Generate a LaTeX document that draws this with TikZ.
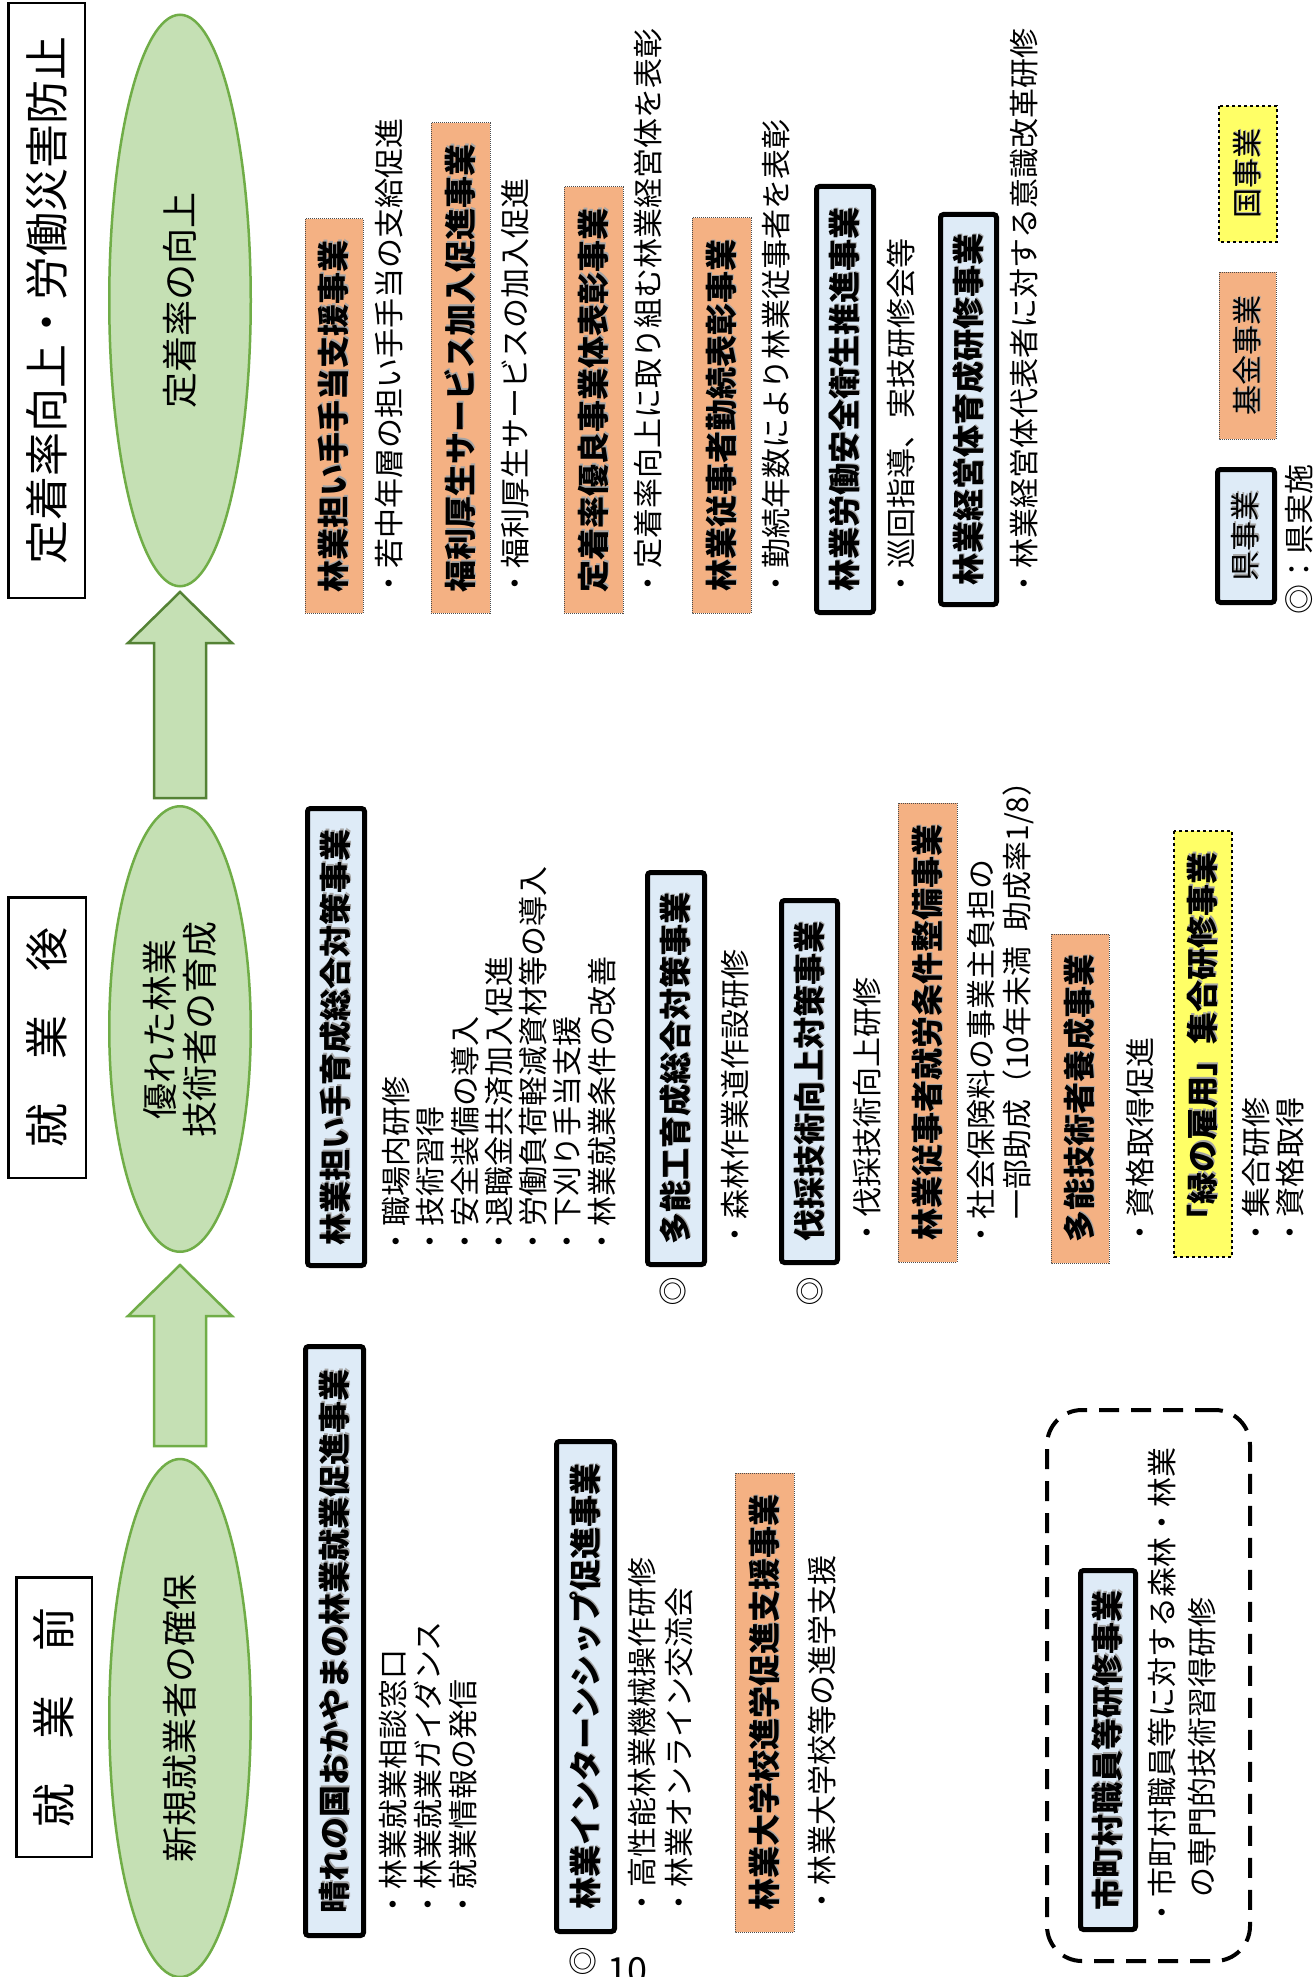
\documentclass[tikz,border=0pt]{standalone}
\usepackage{fontspec}
\setmainfont{Noto Sans CJK JP}
\usetikzlibrary{shapes.geometric}
\definecolor{orangefill}{HTML}{F4B183}
\definecolor{bluefill}{HTML}{DEEBF7}
\definecolor{yellowfill}{HTML}{FFFF66}
\definecolor{greenfill}{HTML}{C5E0B4}
\definecolor{greenline}{HTML}{70AD47}
\definecolor{darkgreen}{HTML}{548235}
\newcommand{\shd}[1]{\rlap{\kern1.2pt\raisebox{-1.2pt}{\color{black!35}#1}}#1}
\tikzset{
  headfont/.style={font=\fontsize{32}{38}\selectfont\bfseries},
  bluebox/.style={draw=black, line width=5pt, fill=bluefill, rounded corners=3pt, rotate=90, inner sep=0pt, headfont},
  orangebox/.style={draw=black!70, densely dotted, line width=1pt, fill=orangefill, rotate=90, inner sep=0pt, headfont},
  yellowbox/.style={draw=black, dashed, line width=1.5pt, fill=yellowfill, rotate=90, inner sep=0pt, headfont},
  legendfont/.style={font=\fontsize{30}{36}\selectfont},
  listtext/.style={rotate=90, anchor=north west, inner sep=0pt, align=left, font=\fontsize{30}{35}\selectfont},
  titlebox/.style={draw=black, line width=2.5pt, rotate=90, inner sep=0pt, font=\fontsize{44}{50}\selectfont},
  goal/.style={ellipse, draw=greenline, line width=2.5pt, fill=greenfill, inner sep=0pt, rotate=90, font=\fontsize{36}{40}\selectfont},
  bigarrow/.style={fill=greenfill, draw=darkgreen, line width=2.5pt, line join=miter},
  markfont/.style={inner sep=0pt, font=\fontsize{29}{35}\selectfont},
}
\begin{document}
\begin{tikzpicture}[x=1pt,y=-1pt]
\useasboundingbox (0,0) rectangle (1313,1977);
\fill[white] (0,0) rectangle (1313,1977);

% title boxes
\node[titlebox, minimum width=594.5pt, minimum height=76.5pt] (ttop) at (46.5,300.5) {定着率向上・労働災害防止};
\node[titlebox, minimum width=280.5pt, minimum height=77.5pt] (tafter) at (47,1037.5) {就　業　後};
\node[titlebox, minimum width=279.5pt, minimum height=75.5pt] (tbefore) at (54,1717) {就　業　前};

% goals
\node[goal, minimum width=571.5pt, minimum height=141.5pt] (g1) at (180,300.5) {定着率の向上};
\node[goal, minimum width=445.5pt, minimum height=141.5pt, align=center] (g2) at (180,1029) {優れた林業\\技術者の育成};
\node[goal, minimum width=518pt, minimum height=141.5pt] (g3) at (180,1718) {新規就業者の確保};

% block arrows
\draw[bigarrow] (180,592) -- (232,643) -- (206,643) -- (206,798) -- (154,798) -- (154,643) -- (128,643) -- cycle;
\draw[bigarrow, draw=greenline] (180,1265) -- (232,1316) -- (206,1316) -- (206,1446) -- (154,1446) -- (154,1316) -- (128,1316) -- cycle;

% ---------- top section ----------
\node[orangebox, minimum width=394pt, minimum height=58pt] (teate) at (334,416) {\shd{林業担い手手当支援事業}};
\node[listtext] (teateL) at (375,599) {・若中年層の担い手手当の支給促進};
\node[orangebox, minimum width=490pt, minimum height=59pt] (fukuri) at (460.5,368) {\shd{福利厚生サービス加入促進事業}};
\node[listtext] (fukuriL) at (501,599) {・福利厚生サービスの加入促進};
\node[orangebox, minimum width=426pt, minimum height=59pt] (yuryo) at (593.5,400) {\shd{定着率優良事業体表彰事業}};
\node[listtext] (yuryoL) at (634,599) {・定着率向上に取り組む林業経営体を表彰};
\node[orangebox, minimum width=395pt, minimum height=59pt] (kinzoku) at (721.5,415.5) {\shd{林業従事者勤続表彰事業}};
\node[listtext] (kinzokuL) at (762,599) {・勤続年数により林業従事者を表彰};
\node[bluebox, minimum width=426pt, minimum height=57pt] (anzen) at (845,399.5) {\shd{林業労働安全衛生推進事業}};
\node[listtext] (anzenL) at (887,599) {・巡回指導、実技研修会等};
\node[bluebox, minimum width=390pt, minimum height=56pt] (keiei) at (968.5,409.5) {\shd{林業経営体育成研修事業}};
\node[listtext] (keieiL) at (1010,599) {・林業経営体代表者に対する意識改革研修};

% legend
\node[yellowbox, minimum width=136pt, minimum height=58pt, legendfont] (lgkuni) at (1248,174) {\shd{国事業}};
\node[orangebox, minimum width=167pt, minimum height=57pt, legendfont] (lgkikin) at (1247.5,355.5) {\shd{基金事業}};
\node[bluebox, minimum width=133pt, minimum height=57pt, legendfont] (lgken) at (1246,536) {\shd{県事業}};
\node[listtext, legendfont] (lgmark) at (1285,615) {◎：県実施};

% ---------- middle section ----------
\node[bluebox, minimum width=457pt, minimum height=57pt] (ninaite) at (336,1037) {\shd{林業担い手育成総合対策事業}};
\node[listtext, font=\fontsize{30}{34.3}\selectfont] (ninaiteL) at (382,1257) {・職場内研修\\・技術習得\\・安全装備の導入\\・退職金共済加入促進\\・労働負荷軽減資材等の導入\\・下刈り手当支援\\・林業就業条件の改善};
\node[bluebox, minimum width=392pt, minimum height=57pt] (tanoko) at (676,1068.5) {\shd{多能工育成総合対策事業}};
\node[listtext] (tanokoL) at (721,1250) {・森林作業道作設研修};
\node[markfont] (tanokoM) at (673,1291) {◎};
\node[bluebox, minimum width=362pt, minimum height=56pt] (bassai) at (809.5,1081.5) {\shd{伐採技術向上対策事業}};
\node[listtext] (bassaiL) at (853,1248) {・伐採技術向上研修};
\node[markfont] (bassaiM) at (810,1291) {◎};
\node[orangebox, minimum width=459pt, minimum height=59pt] (shuro) at (927.5,1032.5) {\shd{林業従事者就労条件整備事業}};
\node[listtext, font=\fontsize{30}{36}\selectfont] (shuroL) at (967,1250) {・社会保険料の事業主負担の\\\hspace*{1em}一部助成（10年未満\hspace{0.5em}助成率1/8）};
\node[orangebox, minimum width=329pt, minimum height=58pt] (tanogi) at (1080,1098.5) {\shd{多能技術者養成事業}};
\node[listtext] (tanogiL) at (1126,1248) {・資格取得促進};
\node[yellowbox, minimum width=426pt, minimum height=58pt] (midori) at (1203,1044) {\shd{「緑の雇用」集合研修事業}};
\node[listtext, font=\fontsize{30}{34}\selectfont] (midoriL) at (1242,1248) {・集合研修\\・資格取得};

% ---------- bottom section ----------
\node[bluebox, minimum width=589pt, minimum height=58pt] (hare) at (334.5,1641) {\shd{晴れの国おかやまの林業就業促進事業}};
\node[listtext] (hareL) at (379,1920) {・林業就業相談窓口\\・林業就業ガイダンス\\・就業情報の発信};
\node[bluebox, minimum width=490pt, minimum height=58pt] (intern) at (585.5,1686.5) {\shd{林業インターンシップ促進事業}};
\node[listtext, font=\fontsize{30}{37}\selectfont] (internL) at (628,1918) {・高性能林業機械操作研修\\・林業オンライン交流会};
\node[markfont] (internM) at (583,1961) {◎};
\node[inner sep=0pt, anchor=base, font=\fontsize{36}{40}\selectfont] (pageno) at (627,1983) {10};
\node[orangebox, minimum width=459pt, minimum height=59pt] (daigaku) at (764.5,1702.5) {\shd{林業大学校進学促進支援事業}};
\node[listtext] (daigakuL) at (808,1916) {・林業大学校等の進学支援};

\node[draw=black, dash pattern=on 20pt off 12pt, line width=4pt, rounded corners=35pt, minimum width=203pt, minimum height=551pt, inner sep=0pt] (cityframe) at (1148.5,1685.5) {};
\node[bluebox, minimum width=359pt, minimum height=55pt] (city) at (1108,1750) {\shd{市町村職員等研修事業}};
\node[listtext, font=\fontsize{30}{40}\selectfont] (cityL) at (1148,1928) {・市町村職員等に対する森林・林業\\\hspace*{1em}の専門的技術習得研修};
\end{tikzpicture}
\end{document}
